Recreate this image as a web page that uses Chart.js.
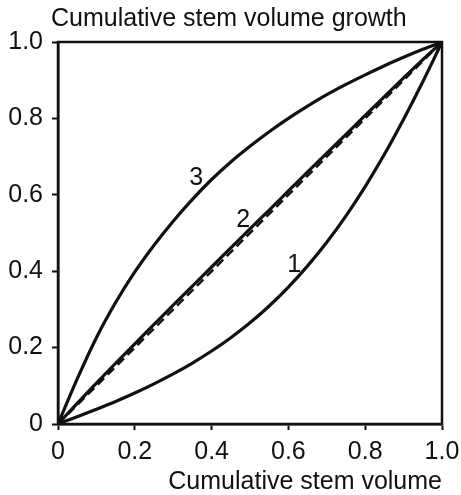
<!DOCTYPE html>
<html>
<head>
<meta charset="utf-8">
<script src="https://cdn.jsdelivr.net/npm/chart.js@4"></script>
<style>
	html, body { margin: 0; padding: 0; background: #fff; }
	#wrap { width: 461px; height: 495px; }
</style>
</head>
<body>
<div id="wrap"><canvas id="stemChart" width="461" height="495"></canvas></div>
<script>
// Cumulative stem volume (x) shared by all curves
var xValues = [0, 0.05, 0.1, 0.15, 0.2, 0.25, 0.3, 0.35, 0.4, 0.45, 0.5, 0.55, 0.6, 0.65, 0.7, 0.75, 0.8, 0.85, 0.9, 0.95, 1];
// Cumulative stem volume growth
var curve1 = [0, 0.019, 0.0385, 0.059, 0.081, 0.105, 0.131, 0.1595, 0.191, 0.226, 0.265, 0.309, 0.3585, 0.414, 0.476, 0.545, 0.6215, 0.706, 0.798, 0.896, 1];
var curve2 = [0, 0.054, 0.107, 0.159, 0.21, 0.261, 0.311, 0.361, 0.411, 0.461, 0.511, 0.56, 0.61, 0.66, 0.709, 0.758, 0.808, 0.857, 0.906, 0.954, 1];
var curve3 = [0, 0.118, 0.226, 0.318, 0.398, 0.468, 0.531, 0.588, 0.64, 0.686, 0.727, 0.765, 0.8, 0.832, 0.862, 0.889, 0.914, 0.938, 0.96, 0.981, 1];
var diagX = [0, 1];
var diagY = [0, 1];
var tickValues = [0, 0.2, 0.4, 0.6, 0.8, 1.0];
// curve labels placed in data units
var curveLabels = ['1', '2', '3'];
var labelX = [0.615, 0.482, 0.36];
var labelY = [0.415, 0.535, 0.645];

var FONT = '"Liberation Sans", Arial, Helvetica, sans-serif';

function toPoints(xs, ys) {
	return xs.map(function(x, i) { return { x: x, y: ys[i] }; });
}

function tickLabel(v) {
	return v === 0 ? '0' : v.toFixed(1);
}

// draws the frame, the top title and the curve numbers
var extras = {
	id: 'extras',
	afterDatasetsDraw: function(chart) {
		var ctx = chart.ctx;
		var a = chart.chartArea;
		var xs = chart.scales.x;
		var ys = chart.scales.y;
		ctx.save();
		ctx.strokeStyle = '#111';
		ctx.lineWidth = 2.5;
		ctx.strokeRect(a.left, a.top, a.right - a.left, a.bottom - a.top);

		ctx.fillStyle = '#111';
		ctx.font = '25px ' + FONT;
		ctx.textAlign = 'center';
		ctx.textBaseline = 'middle';
		curveLabels.forEach(function(t, i) {
			ctx.fillText(t, xs.getPixelForValue(labelX[i]), ys.getPixelForValue(labelY[i]));
		});

		ctx.textAlign = 'left';
		ctx.textBaseline = 'alphabetic';
		ctx.fillText('Cumulative stem volume growth', 51, 26);
		ctx.restore();
	}
};

var lineStyle = { borderColor: '#111', borderWidth: 3.2, pointRadius: 0, showLine: true, fill: false, tension: 0.4, cubicInterpolationMode: 'monotone' };

var stemChart = new Chart(document.getElementById('stemChart'), {
	type: 'scatter',
	data: {
		datasets: [
			Object.assign({ label: 'diagonal', data: toPoints(diagX, diagY), order: 2 }, lineStyle, { borderWidth: 2.5, borderDash: [9, 5], tension: 0 }),
			Object.assign({ label: '1', data: toPoints(xValues, curve1), order: 1 }, lineStyle),
			Object.assign({ label: '2', data: toPoints(xValues, curve2), order: 1 }, lineStyle),
			Object.assign({ label: '3', data: toPoints(xValues, curve3), order: 1 }, lineStyle)
		]
	},
	options: {
		responsive: false,
		animation: false,
		devicePixelRatio: 1,
		layout: { padding: { top: 42, right: 19, left: 0, bottom: 0 } },
		plugins: {
			legend: { display: false },
			tooltip: { enabled: false }
		},
		scales: {
			x: {
				type: 'linear',
				min: 0, max: 1,
				afterBuildTicks: function(s) { s.ticks = tickValues.map(function(v) { return { value: v }; }); },
				afterFit: function(s) { s.height = 71; s.paddingLeft = 0; s.paddingRight = 0; },
				ticks: { callback: tickLabel, color: '#111', font: { family: FONT, size: 25 }, padding: 7, maxRotation: 0 },
				grid: { drawOnChartArea: false, drawTicks: true, tickLength: 6, tickWidth: 2, color: '#111' },
				border: { display: true, color: '#111', width: 2.5 },
				title: { display: true, text: 'Cumulative stem volume', align: 'end', color: '#111', font: { family: FONT, size: 25, lineHeight: 1 }, padding: { top: 0, bottom: 0 } }
			},
			y: {
				type: 'linear',
				min: 0, max: 1,
				afterBuildTicks: function(s) { s.ticks = tickValues.map(function(v) { return { value: v }; }); },
				afterFit: function(s) { s.width = 58; s.paddingTop = 0; s.paddingBottom = 0; },
				ticks: { callback: tickLabel, color: '#111', font: { family: FONT, size: 25 }, padding: 9 },
				grid: { drawOnChartArea: false, drawTicks: true, tickLength: 6, tickWidth: 2, color: '#111' },
				border: { display: true, color: '#111', width: 2.5 }
			}
		}
	},
	plugins: [extras]
});
</script>
</body>
</html>
